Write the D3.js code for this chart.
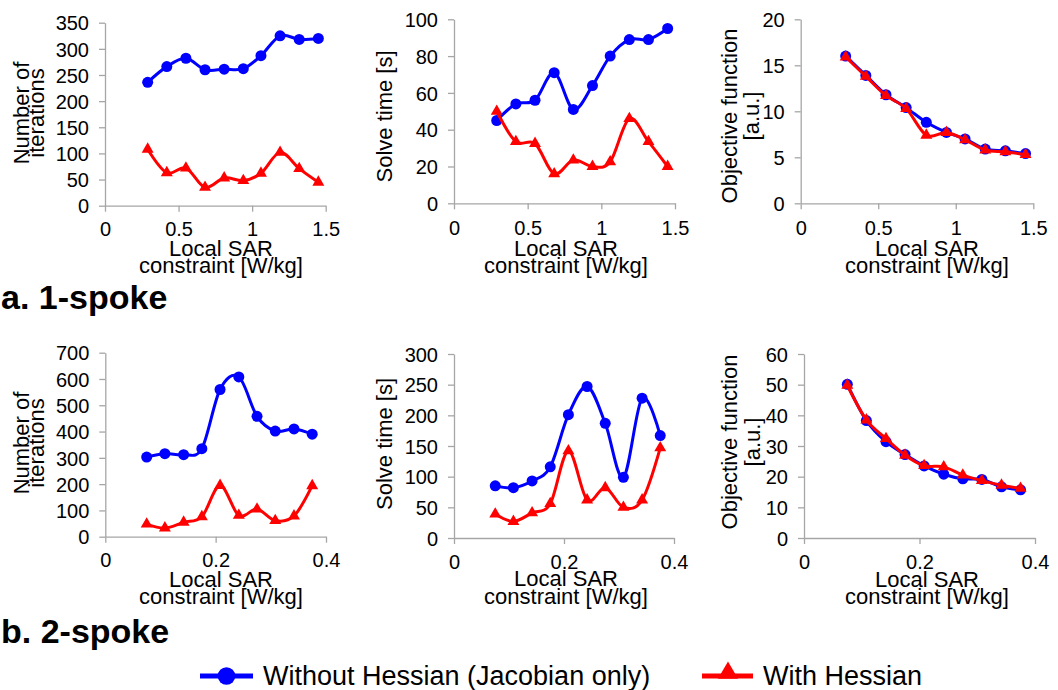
<!DOCTYPE html>
<html>
<head>
<meta charset="utf-8">
<script src="https://cdn.jsdelivr.net/npm/d3@7"></script>
<style>
  html, body { margin: 0; padding: 0; background: #fff; }
  svg { display: block; }
  text { font-family: "Liberation Sans", Arial, sans-serif; fill: #000; }
</style>
</head>
<body>
<svg id="chart" width="1058" height="690"></svg>
<script>
// ---------- data ----------
const xTop    = [0.29, 0.42, 0.55, 0.68, 0.81, 0.94, 1.06, 1.19, 1.32, 1.45];
const xBottom = [0.075, 0.108, 0.142, 0.175, 0.208, 0.242, 0.275, 0.308, 0.342, 0.375];

// a. 1-spoke
const iter1Without = [236, 266, 282, 260, 261, 262, 287, 325, 318, 320];
const iter1With    = [108, 63, 72, 35, 53, 48, 62, 102, 71, 45];
const time1Without = [45, 54, 56, 71, 51, 64, 80, 89, 89, 95];
const time1With    = [50, 33.5, 32.5, 16, 23.5, 20, 22.5, 46, 33.5, 20];
const obj1Without  = [16.0, 13.9, 11.8, 10.4, 8.8, 7.7, 7.0, 5.9, 5.7, 5.4];
const obj1With     = [15.9, 13.8, 11.7, 10.3, 7.4, 7.7, 6.9, 5.8, 5.6, 5.3];

// b. 2-spoke
const iter2Without = [303, 316, 312, 335, 560, 608, 458, 402, 410, 390];
const iter2With    = [48, 33, 55, 76, 195, 81, 105, 61, 79, 194];
const time2Without = [85, 82, 93, 116, 201, 247, 187, 99, 228, 167];
const time2With    = [39, 27, 41, 56, 142, 62, 82, 50, 62, 147];
const obj2Without  = [50.1, 38.3, 31.4, 27.2, 23.5, 20.8, 19.3, 19.1, 16.7, 15.7];
const obj2With     = [49.8, 38.5, 32.4, 27.0, 23.6, 23.2, 20.5, 18.7, 17.2, 16.2];

// tick labels
const xTicksTop    = [0, 0.5, 1, 1.5];
const xTicksBottom = [0, 0.2, 0.4];
const yTicksIter1  = [0, 50, 100, 150, 200, 250, 300, 350];
const yTicksTime1  = [0, 20, 40, 60, 80, 100];
const yTicksObj1   = [0, 5, 10, 15, 20];
const yTicksIter2  = [0, 100, 200, 300, 400, 500, 600, 700];
const yTicksTime2  = [0, 50, 100, 150, 200, 250, 300];
const yTicksObj2   = [0, 10, 20, 30, 40, 50, 60];

const seriesNames  = ["Without Hessian (Jacobian only)", "With Hessian"];
const sectionNames = ["a. 1-spoke", "b. 2-spoke"];
const xTitleLines  = ["Local SAR", "constraint [W/kg]"];

// ---------- layout ----------
const BLUE = "#0000ff", RED = "#ff0000", AXIS = "#a6a6a6";
const FONT = '"Liberation Sans", Arial, sans-serif';

const panels = [
  { x: xTop, a: iter1Without, b: iter1With, xt: xTicksTop, yt: yTicksIter1,
    px: [105, 325.7], py: [205.7, 22.7], ytitle: ["Number of", "iterations"], yb: [28.5, 43.5], yc: 113,
    xtb: 236, xtc: 221, xtl: [256, 272.5] },
  { x: xTop, a: time1Without, b: time1With, xt: xTicksTop, yt: yTicksTime1,
    px: [454, 675], py: [203.3, 19.3], ytitle: ["Solve time [s]"], yb: [392], yc: 116.5,
    xtb: 235, xtc: 566, xtl: [255.5, 272.5] },
  { x: xTop, a: obj1Without, b: obj1With, xt: xTicksTop, yt: yTicksObj1,
    px: [800.7, 1033.3], py: [203.3, 19.3], ytitle: ["Objective function", "[a.u.]"], yb: [736.5, 759], yc: 116,
    xtb: 235, xtc: 927, xtl: [256, 272.5] },
  { x: xBottom, a: iter2Without, b: iter2With, xt: xTicksBottom, yt: yTicksIter2,
    px: [105.3, 326], py: [536.7, 352.7], ytitle: ["Number of", "iterations"], yb: [28.5, 43.5], yc: 443,
    xtb: 567.5, xtc: 221, xtl: [586.5, 603.5] },
  { x: xBottom, a: time2Without, b: time2With, xt: xTicksBottom, yt: yTicksTime2,
    px: [454, 674], py: [538, 354], ytitle: ["Solve time [s]"], yb: [392], yc: 444,
    xtb: 568.5, xtc: 566, xtl: [585.5, 603.5] },
  { x: xBottom, a: obj2Without, b: obj2With, xt: xTicksBottom, yt: yTicksObj2,
    px: [804, 1035], py: [538, 354], ytitle: ["Objective function", "[a.u.]"], yb: [737, 760], yc: 442,
    xtb: 569, xtc: 927, xtl: [586.5, 603.5] }
];

const svg = d3.select("#chart");
const curve = d3.curveCardinal.tension(0);

panels.forEach(p => {
  const xs = d3.scaleLinear().domain([0, p.xt[p.xt.length - 1]]).range(p.px);
  const ys = d3.scaleLinear().domain([0, p.yt[p.yt.length - 1]]).range(p.py);
  const g = svg.append("g");

  // y axis
  const ya = g.append("g").attr("transform", `translate(${p.px[0]},0)`)
    .call(d3.axisLeft(ys).tickValues(p.yt).tickSize(6).tickSizeOuter(0).tickPadding(10)
      .tickFormat(d3.format("~g")));
  // x axis
  const xa = g.append("g").attr("transform", `translate(0,${p.py[0]})`)
    .call(d3.axisBottom(xs).tickValues(p.xt).tickSize(6).tickSizeOuter(0).tickPadding(0)
      .tickFormat(d3.format("~g")));
  [ya, xa].forEach(ax => {
    ax.select(".domain").attr("stroke", AXIS).attr("stroke-width", 1.3);
    ax.selectAll(".tick line").attr("stroke", AXIS).attr("stroke-width", 1.3);
    ax.selectAll(".tick text").attr("font-family", FONT).attr("font-size", 20).attr("fill", "#000");
  });
  xa.selectAll(".tick text").attr("dy", null).attr("y", p.xtb - p.py[0]);
  ya.selectAll(".tick text").attr("dy", "0.36em");

  // x title
  xTitleLines.forEach((t, i) => {
    g.append("text").attr("x", p.xtc).attr("y", p.xtl[i])
      .attr("text-anchor", "middle").attr("font-size", 22).text(t);
  });
  // y title
  p.ytitle.forEach((t, i) => {
    g.append("text")
      .attr("transform", `translate(${p.yb[i]},${p.yc}) rotate(-90)`)
      .attr("text-anchor", "middle").attr("font-size", 22).text(t);
  });

  const line = d3.line().x((d, i) => xs(p.x[i])).y(d => ys(d)).curve(curve);

  // series 1 (blue, circles)
  g.append("path").datum(p.a).attr("d", line).attr("fill", "none")
    .attr("stroke", BLUE).attr("stroke-width", 3).attr("stroke-linejoin", "round");
  g.selectAll(".c").data(p.a).enter().append("circle")
    .attr("cx", (d, i) => xs(p.x[i])).attr("cy", d => ys(d)).attr("r", 5.5).attr("fill", BLUE);

  // series 2 (red, triangles)
  g.append("path").datum(p.b).attr("d", line).attr("fill", "none")
    .attr("stroke", RED).attr("stroke-width", 3).attr("stroke-linejoin", "round");
  g.selectAll(".t").data(p.b).enter().append("path")
    .attr("d", d3.symbol().type(d3.symbolTriangle).size(62))
    .attr("transform", (d, i) => `translate(${xs(p.x[i])},${ys(d)})`).attr("fill", RED);
});

// section labels
[309, 643].forEach((y, i) => {
  svg.append("text").attr("x", 1).attr("y", y).attr("font-size", 34)
    .attr("font-weight", "bold").text(sectionNames[i]);
});

// legend
const lg = svg.append("g");
const legendItems = [
  { x1: 200, x2: 253, cx: 226.5, tx: 263, color: BLUE, type: "circle" },
  { x1: 702, x2: 753, cx: 728, tx: 763, color: RED, type: "triangle" }
];
legendItems.forEach((it, i) => {
  lg.append("line").attr("x1", it.x1).attr("x2", it.x2).attr("y1", 676).attr("y2", 676)
    .attr("stroke", it.color).attr("stroke-width", 5);
  if (it.type === "circle") {
    lg.append("circle").attr("cx", it.cx).attr("cy", 676).attr("r", 8.8).attr("fill", it.color);
  } else {
    lg.append("path").attr("d", d3.symbol().type(d3.symbolTriangle).size(175))
      .attr("transform", `translate(${it.cx},673)`).attr("fill", it.color);
  }
  lg.append("text").attr("x", it.tx).attr("y", 685).attr("font-size", 27).text(seriesNames[i]);
});
</script>
</body>
</html>
